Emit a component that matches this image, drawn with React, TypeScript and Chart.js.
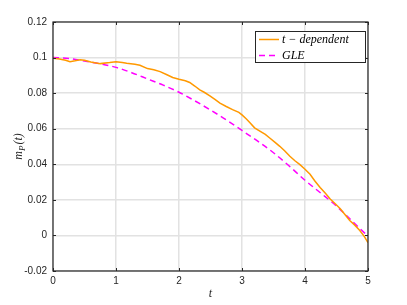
import React, { useEffect, useRef } from "react";
import Chart from "chart.js/auto";

const tDepT = [0, 0.1, 0.2, 0.27, 0.35, 0.43, 0.5, 0.6, 0.75, 0.9, 1.0, 1.1, 1.17, 1.3, 1.38, 1.5, 1.6, 1.7, 1.8, 1.9, 2.0, 2.1, 2.17, 2.25, 2.33, 2.4, 2.49, 2.57, 2.65, 2.75, 2.85, 2.95, 3.0, 3.07, 3.13, 3.2, 3.29, 3.37, 3.44, 3.52, 3.6, 3.68, 3.76, 3.84, 3.92, 4.0, 4.08, 4.16, 4.24, 4.32, 4.4, 4.48, 4.56, 4.64, 4.71, 4.79, 4.87, 4.94, 5.0];
const tDepV = [0.0996, 0.0992, 0.0985, 0.0977, 0.0982, 0.0988, 0.0985, 0.0975, 0.0966, 0.0972, 0.0977, 0.0972, 0.0968, 0.0962, 0.0957, 0.0938, 0.0932, 0.0921, 0.0905, 0.0888, 0.0878, 0.087, 0.086, 0.084, 0.0818, 0.0805, 0.0785, 0.0765, 0.0744, 0.0725, 0.0707, 0.0692, 0.0678, 0.0655, 0.0632, 0.0605, 0.0585, 0.0568, 0.0548, 0.0525, 0.0501, 0.0475, 0.0445, 0.042, 0.0398, 0.0372, 0.0344, 0.0305, 0.027, 0.0238, 0.0205, 0.0178, 0.015, 0.0115, 0.0084, 0.0058, 0.0028, -0.0005, -0.0041];

const gleT = [0, 0.25, 0.5, 0.75, 1, 1.25, 1.5, 1.75, 2, 2.25, 2.5, 2.75, 3, 3.25, 3.5, 3.75, 4, 4.25, 4.5, 4.75, 5];
const gleV = [0.1, 0.0995, 0.098, 0.0965, 0.0945, 0.0915, 0.088, 0.0845, 0.0805, 0.0757, 0.0705, 0.065, 0.059, 0.053, 0.0465, 0.039, 0.031, 0.0238, 0.0165, 0.008, -0.0005];

const xTicks = [0, 1, 2, 3, 4, 5];
const yTicks = [-0.02, 0, 0.02, 0.04, 0.06, 0.08, 0.1, 0.12];
const seriesNames = ["t \u2212 dependent", "GLE"];

const AXIS = "#262626";
const ORANGE = "#ff9900";
const MAGENTA = "#ff00ff";
const MATH_FONT = "italic 12px 'Liberation Serif'";
const SUB_FONT = "italic 9px 'Liberation Serif'";

const decorPlugin = {
  id: "decor",
  afterDatasetsDraw(chart: any) {
    const { ctx, chartArea: a, scales } = chart;
    ctx.save();
    // box
    ctx.strokeStyle = AXIS;
    ctx.lineWidth = 1.2;
    ctx.strokeRect(a.left, a.top, a.right - a.left, a.bottom - a.top);
    // inner ticks
    const tl = 3;
    ctx.lineWidth = 1;
    ctx.beginPath();
    xTicks.forEach((v) => {
      const x = Math.round(scales.x.getPixelForValue(v)) + 0.5;
      ctx.moveTo(x, a.bottom); ctx.lineTo(x, a.bottom - tl);
      ctx.moveTo(x, a.top); ctx.lineTo(x, a.top + tl);
    });
    yTicks.forEach((v) => {
      const y = Math.round(scales.y.getPixelForValue(v)) + 0.5;
      ctx.moveTo(a.left, y); ctx.lineTo(a.left + tl, y);
      ctx.moveTo(a.right, y); ctx.lineTo(a.right - tl, y);
    });
    ctx.stroke();

    // axis titles
    ctx.fillStyle = AXIS;
    ctx.font = MATH_FONT;
    ctx.textAlign = "center";
    ctx.textBaseline = "alphabetic";
    ctx.fillText("t", (a.left + a.right) / 2, 297);

    ctx.save();
    ctx.translate(22, (a.top + a.bottom) / 2);
    ctx.rotate(-Math.PI / 2);
    ctx.textAlign = "left";
    const m = "m", p = "P", rest = "(t)";
    ctx.font = MATH_FONT;
    const wm = ctx.measureText(m).width;
    ctx.font = SUB_FONT;
    const wp = ctx.measureText(p).width;
    ctx.font = MATH_FONT;
    const wr = ctx.measureText(rest).width;
    const total = wm + wp + 1 + wr;
    let x0 = -total / 2;
    ctx.fillText(m, x0, 0);
    x0 += wm;
    ctx.font = SUB_FONT;
    ctx.fillText(p, x0, 3);
    x0 += wp + 1;
    ctx.font = MATH_FONT;
    ctx.fillText(rest, x0, 0);
    ctx.restore();

    // legend
    const lx = 255, ly = 31, lw = 110, lh = 31;
    ctx.fillStyle = "#ffffff";
    ctx.fillRect(lx, ly, lw, lh);
    ctx.strokeStyle = AXIS;
    ctx.lineWidth = 1;
    ctx.strokeRect(lx + 0.5, ly + 0.5, lw, lh);
    const rows = [ly + 8.5, ly + 24.5];
    const colors = [ORANGE, MAGENTA];
    rows.forEach((ry, i) => {
      ctx.strokeStyle = colors[i];
      ctx.lineWidth = 1.5;
      ctx.setLineDash(i === 1 ? [6, 4] : []);
      ctx.beginPath();
      ctx.moveTo(lx + 4, ry);
      ctx.lineTo(lx + 24, ry);
      ctx.stroke();
      ctx.setLineDash([]);
      ctx.fillStyle = "#000000";
      ctx.font = MATH_FONT;
      ctx.textAlign = "left";
      ctx.textBaseline = "middle";
      ctx.fillText(seriesNames[i], lx + 27, ry + 0.5);
    });
    ctx.restore();
  },
};

export default function App() {
  const ref = useRef<HTMLCanvasElement>(null);
  useEffect(() => {
    const chart = new Chart(ref.current!, {
      type: "line",
      data: {
        datasets: [
          {
            label: seriesNames[0],
            data: tDepT.map((t, i) => ({ x: t, y: tDepV[i] })),
            borderColor: ORANGE,
            borderWidth: 1.5,
            pointRadius: 0,
            tension: 0,
          },
          {
            label: seriesNames[1],
            data: gleT.map((t, i) => ({ x: t, y: gleV[i] })),
            borderColor: MAGENTA,
            borderWidth: 1.5,
            borderDash: [6, 4],
            pointRadius: 0,
            cubicInterpolationMode: "monotone",
          },
        ],
      },
      options: {
        animation: false,
        responsive: false,
        layout: { padding: { top: 22, right: 39, left: 0, bottom: 0 } },
        plugins: { legend: { display: false }, tooltip: { enabled: false } },
        scales: {
          x: {
            type: "linear",
            min: 0,
            max: 5,
            afterFit: (s: any) => { s.height = 34; },
            afterBuildTicks: (s: any) => { s.ticks = xTicks.map((v) => ({ value: v })); },
            ticks: { color: AXIS, font: { family: "'Liberation Sans'", size: 10 }, padding: 4, maxRotation: 0 },
            grid: { color: "#e2e2e2", lineWidth: 1.5, drawTicks: false },
            border: { display: false },
          },
          y: {
            type: "linear",
            min: -0.02,
            max: 0.12,
            afterFit: (s: any) => { s.width = 53; },
            afterBuildTicks: (s: any) => { s.ticks = yTicks.map((v) => ({ value: v })); },
            ticks: {
              color: AXIS,
              font: { family: "'Liberation Sans'", size: 10 },
              padding: 6,
              callback: (v: any) => String(Number(Number(v).toFixed(2))),
            },
            grid: { color: "#e2e2e2", lineWidth: 1.5, drawTicks: false },
            border: { display: false },
          },
        },
      },
      plugins: [decorPlugin],
    });
    return () => chart.destroy();
  }, []);
  return (
    <div style={{ position: "fixed", left: 0, top: 0, width: 407, height: 305, background: "#fff" }}>
      <canvas ref={ref} width={407} height={305} style={{ display: "block" }} />
    </div>
  );
}
